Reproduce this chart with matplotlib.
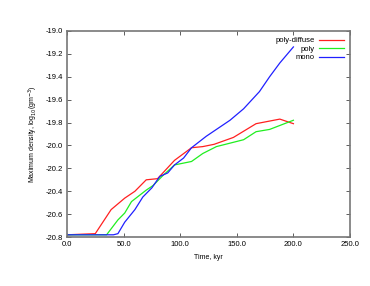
import matplotlib
matplotlib.use("Agg")
import matplotlib.pyplot as plt
from matplotlib.ticker import FormatStrFormatter

# time (kyr) and max density (log10 g m^-3)
t_red = [0, 25, 39, 51, 60, 70, 80, 95, 110, 120, 130, 147, 167, 188, 200]
v_red = [-20.78, -20.77, -20.56, -20.46, -20.40, -20.30, -20.29, -20.13,
         -20.02, -20.01, -19.99, -19.93, -19.81, -19.77, -19.81]

t_green = [0, 35, 45, 51, 57, 70, 76, 85, 95, 110, 120, 132, 156, 167, 179, 200]
v_green = [-20.78, -20.78, -20.65, -20.59, -20.49, -20.39, -20.35, -20.26,
           -20.17, -20.14, -20.07, -20.01, -19.95, -19.88, -19.86, -19.78]

t_blue = [0, 41, 45, 51, 60, 67, 75, 82, 89, 95, 103, 110, 123, 135, 144,
          156, 170, 179, 188, 200]
v_blue = [-20.78, -20.78, -20.77, -20.67, -20.56, -20.45, -20.37, -20.27,
          -20.24, -20.17, -20.11, -20.02, -19.92, -19.84, -19.78, -19.68,
          -19.53, -19.40, -19.28, -19.14]

labels = ["poly-diffuse", "poly", "mono"]

plt.rcParams["font.family"] = ["Liberation Sans", "DejaVu Sans"]
fig = plt.figure(figsize=(3.7, 2.86), dpi=100)
ax = fig.add_axes([0.181, 0.171, 0.765, 0.721])

ax.plot(t_red, v_red, color="#ff2020", lw=0.9, label=labels[0])
ax.plot(t_green, v_green, color="#20ee20", lw=0.9, label=labels[1])
ax.plot(t_blue, v_blue, color="#2020ff", lw=0.9, label=labels[2])

ax.set_xlim(0, 250)
ax.set_ylim(-20.8, -19.0)
ax.set_xticks([0, 50, 100, 150, 200, 250])
ax.set_yticks([-20.8, -20.6, -20.4, -20.2, -20.0, -19.8, -19.6, -19.4, -19.2, -19.0])
ax.xaxis.set_major_formatter(FormatStrFormatter("%.1f"))
ax.yaxis.set_major_formatter(FormatStrFormatter("%.1f"))
ax.tick_params(direction="in", top=True, right=True, labelsize=5.5,
               length=3, width=0.6, colors="#444444", labelcolor="black", pad=3)
for s in ax.spines.values():
    s.set_color("#777777")
    s.set_linewidth(1.2)

ax.set_xlabel("Time, kyr", fontsize=5)
ax.set_ylabel("Maximum density, log$_{10}$(gm$^{-3}$)", fontsize=5)

ax.legend(loc="upper right", frameon=False, markerfirst=False, fontsize=5.5,
          handlelength=3.2, handletextpad=0.6, labelspacing=0.15,
          borderaxespad=0.4)
for txt in ax.get_legend().get_texts():
    txt.set_ha("right")

fig.savefig("out.png", dpi=100)
